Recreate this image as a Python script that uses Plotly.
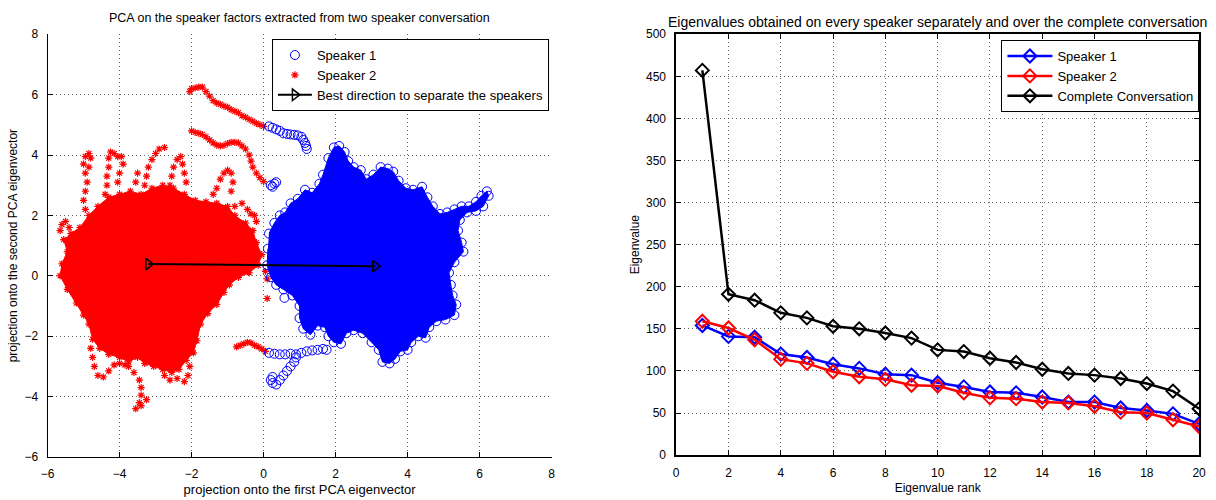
import plotly.graph_objects as go

# ---------------- Left panel: PCA projections ----------------
# Dense core of each speaker's cloud, traced as an outline (x, y)
spk1_core_x = [0.15, 0.3, 0.45, 0.6, 0.75, 0.95, 1.15, 1.35, 1.55, 1.65, 1.8, 1.95, 2.1, 2.25, 2.35, 2.5, 2.7,
               2.85, 3.05, 3.25, 3.45, 3.6, 3.75, 3.95, 4.15, 4.4, 4.55, 4.7, 4.9, 5.1, 5.3, 5.5, 5.7, 5.9, 6.05,
               6.2, 6.25, 6.1, 5.9, 5.65, 5.45, 5.4, 5.5, 5.55, 5.3, 5.15, 5.2, 5.25, 5.35, 5.3, 5.05, 4.8, 4.6,
               4.5, 4.3, 4.1, 4.0, 3.8, 3.65, 3.5, 3.3, 3.2, 3.0, 2.75, 2.5, 2.3, 2.15, 1.95, 1.8, 1.7, 1.5, 1.3,
               1.1, 1.0, 1.0, 0.8, 0.55, 0.35, 0.2, 0.1, 0.12]
spk1_core_y = [1.4, 1.75, 2.0, 2.1, 2.4, 2.55, 2.85, 2.75, 3.05, 3.35, 3.9, 4.25, 4.3, 4.1, 3.8, 3.6, 3.5,
               3.2, 3.35, 3.6, 3.55, 3.45, 3.15, 2.9, 2.85, 2.95, 2.6, 2.3, 2.05, 2.1, 2.2, 2.3, 2.3, 2.45, 2.65,
               2.8, 2.65, 2.3, 2.15, 2.1, 1.85, 1.5, 1.1, 0.8, 0.45, 0.1, -0.3, -0.65, -0.95, -1.3, -1.45, -1.5,
               -1.7, -2.05, -2.0, -2.2, -2.45, -2.5, -2.75, -2.9, -2.85, -2.45, -2.2, -1.9, -1.8, -1.9, -2.25,
               -2.2, -2.0, -1.7, -1.65, -1.95, -1.75, -1.4, -1.0, -0.65, -0.45, -0.3, -0.05, 0.35, 0.9]

# Isolated trajectories of speaker 1 outside the core
spk1_trail_x = [0.15, 0.25, 0.35, 0.45, 0.55, 0.65, 0.75, 0.85, 0.95, 1.05, 1.1, 1.15, 1.18, 1.2,
                0.2, 0.3, 0.35, 0.25,
                0.15, 0.3, 0.45, 0.6, 0.75, 0.9, 1.05, 1.2, 1.35, 1.5, 1.65, 1.75,
                0.9, 0.85, 0.75, 0.65, 0.55, 0.45, 0.35, 0.25, 0.2, 0.25,
                0.58]
spk1_trail_y = [4.95, 4.9, 4.85, 4.8, 4.72, 4.7, 4.68, 4.67, 4.65, 4.6, 4.5, 4.4, 4.3, 4.2,
                3.0, 3.05, 3.1, 2.95,
                -2.55, -2.58, -2.6, -2.6, -2.58, -2.6, -2.55, -2.5, -2.47, -2.45, -2.42, -2.45,
                -2.7, -2.85, -3.0, -3.15, -3.3, -3.45, -3.6, -3.55, -3.45, -3.35,
                -0.73]

spk2_core_x = [-5.55, -5.45, -5.6, -5.65, -5.45, -5.2, -5.0, -4.85, -4.75, -4.55, -4.3, -4.0, -3.75, -3.5,
               -3.3, -3.05, -2.8, -2.55, -2.35, -2.15, -1.95, -1.85, -1.75, -1.55, -1.3, -1.1, -0.95, -0.7,
               -0.4, -0.15, -0.05, -0.2, -0.3, -0.5, -0.8, -1.0, -1.3, -1.6, -1.9, -2.2, -2.5, -2.8, -3.1,
               -3.4, -3.7, -4.0, -4.3, -4.6, -4.85, -5.1, -5.35]
spk2_core_y = [1.2, 0.8, 0.4, 0.0, -0.45, -0.9, -1.3, -1.6, -2.1, -2.4, -2.6, -2.7, -2.85, -2.7,
               -2.9, -3.0, -3.1, -3.2, -3.1, -2.8, -2.55, -2.15, -1.6, -1.25, -0.95, -0.55, -0.3, -0.05,
               0.1, 0.35, 0.7, 1.1, 1.5, 1.75, 2.0, 2.3, 2.4, 2.45, 2.5, 2.7, 2.9, 3.0, 2.9,
               2.7, 2.8, 2.7, 2.6, 2.3, 2.0, 1.6, 1.4]

# Isolated trajectories of speaker 2 outside the core
spk2_trail_x = [-4.95, -5.0, -4.95, -4.9, -4.95, -5.0, -4.95, -4.85, -4.8, -4.85,
                -4.4, -4.35, -4.35, -4.3, -4.3, -4.25, -4.15, -4.05, -3.95, -3.9, -4.0, -4.05,
                -3.55, -3.5, -3.3, -3.25, -3.2, -3.1, -3.0, -2.9, -2.75,
                -2.6, -2.55, -2.5, -2.4, -2.3, -2.25, -2.2, -2.15,
                -1.4, -1.3, -1.2, -1.1, -1.0, -0.9, -0.85, -0.9,
                -0.8, -0.6, -0.45, -0.35, -0.25, -0.2,
                -5.65, -5.6, -5.5, -5.4,
                -4.8, -4.75, -4.7, -4.6, -4.45, -4.3, -4.15, -4.0, -3.85,
                -3.75, -3.6, -3.45, -3.4, -3.4, -3.45, -3.55, -3.4, -3.25,
                -2.75, -2.6, -2.4, -2.2, -2.1, -2.05,
                -2.05, -2.0, -1.9, -1.8, -1.7, -1.6, -1.5, -1.4, -1.3, -1.2, -1.1, -1.0, -0.9, -0.8, -0.7,
                -0.6, -0.5, -0.4, -0.3, -0.2, -0.1, 0.0,
                -2.0, -1.9, -1.8, -1.7, -1.6, -1.5, -1.4, -1.3, -1.2, -1.1, -1.0, -0.9, -0.8, -0.7, -0.6,
                -0.5, -0.4, -0.35, -0.3, -0.2, -0.1, 0.0,
                -0.75, -0.65, -0.55, -0.45, -0.35, -0.25, -0.15, -0.05, 0.05,
                0.1, 0.05, 0.1]
spk2_trail_y = [2.2, 2.5, 2.8, 3.1, 3.4, 3.7, 3.95, 4.05, 3.9, 3.6,
                2.7, 3.0, 3.3, 3.6, 3.9, 4.1, 4.05, 3.95, 3.95, 3.7, 3.4, 3.1,
                3.1, 3.4, 3.0, 3.3, 3.6, 3.85, 4.05, 4.2, 4.25,
                3.0, 3.3, 3.6, 3.85, 3.95, 3.7, 3.4, 3.1,
                2.7, 2.9, 3.2, 3.4, 3.5, 3.4, 3.1, 2.8,
                2.3, 2.4, 2.2, 2.05, 2.0, 1.8,
                1.5, 1.7, 1.8, 1.6,
                -2.4, -2.7, -3.0, -3.3, -3.35, -3.15, -2.95, -2.9, -2.95,
                -3.0, -3.2, -3.45, -3.7, -3.95, -4.2, -4.4, -4.3, -4.1,
                -3.3, -3.45, -3.4, -3.5, -3.3, -3.0,
                6.1, 6.2, 6.22, 6.25, 6.25, 6.1, 5.95, 5.8, 5.72, 5.68, 5.62, 5.58, 5.5, 5.45, 5.4,
                5.3, 5.25, 5.18, 5.12, 5.05, 5.0, 4.95,
                4.8, 4.75, 4.72, 4.68, 4.6, 4.5, 4.4, 4.33, 4.3, 4.32, 4.38, 4.42, 4.42, 4.4, 4.3,
                4.2, 4.0, 3.8, 3.6, 3.4, 3.25, 3.12,
                -2.35, -2.3, -2.25, -2.2, -2.22, -2.3, -2.35, -2.42, -2.5,
                -0.75, 0.15, -0.1]

# Direction separating the two speakers
sep_x = [-3.2, 3.1]
sep_y = [0.39, 0.32]

# ---------------- Right panel: eigenvalue spectra ----------------
rank = list(range(1, 21))
eig_spk1 = [154, 141, 140, 120, 116, 108, 103, 96, 95, 86, 81, 75, 74, 69, 63, 63, 56, 53, 49, 37]
eig_spk2 = [159, 151, 137, 114, 109, 99, 93, 90, 83, 82, 74, 68, 67, 63, 62, 58, 51, 50, 42, 34]
eig_conv = [457, 191, 184, 169, 163, 153, 150, 145, 139, 125, 123, 115, 110, 102, 97, 95, 91, 85, 76, 55]

BLUE = "#0000ff"
RED = "#ff0000"
FONT = "Liberation Sans, Arial, sans-serif"

fig = go.Figure()

# Speaker 2 (red) cloud
fig.add_trace(go.Scatter(x=spk2_core_x, y=spk2_core_y, mode="lines", fill="toself",
                         fillcolor=RED, line=dict(color=RED, width=1),
                         showlegend=False, hoverinfo="skip", xaxis="x", yaxis="y"))
fig.add_trace(go.Scatter(x=spk2_core_x + spk2_trail_x, y=spk2_core_y + spk2_trail_y, mode="markers",
                         name="Speaker 2",
                         marker=dict(symbol="asterisk-open", size=6, color=RED,
                                     line=dict(color=RED, width=1.2)),
                         legend="legend", xaxis="x", yaxis="y"))

# Speaker 1 (blue) cloud
fig.add_trace(go.Scatter(x=spk1_core_x, y=spk1_core_y, mode="lines", fill="toself",
                         fillcolor=BLUE, line=dict(color=BLUE, width=1),
                         showlegend=False, hoverinfo="skip", xaxis="x", yaxis="y"))
fig.add_trace(go.Scatter(x=spk1_core_x + spk1_trail_x, y=spk1_core_y + spk1_trail_y, mode="markers",
                         name="Speaker 1",
                         marker=dict(symbol="circle-open", size=9, color=BLUE,
                                     line=dict(color=BLUE, width=1)),
                         legend="legend", xaxis="x", yaxis="y"))

fig.add_trace(go.Scatter(x=sep_x, y=sep_y, mode="lines+markers",
                         name="Best direction to separate the speakers",
                         line=dict(color="black", width=2),
                         marker=dict(symbol="triangle-right-open", size=10, color="black",
                                     line=dict(color="black", width=1.5)),
                         legend="legend", xaxis="x", yaxis="y"))

# Eigenvalue curves
for vals, name, col in [(eig_spk1, "Speaker 1", BLUE), (eig_spk2, "Speaker 2", RED),
                        (eig_conv, "Complete Conversation", "black")]:
    fig.add_trace(go.Scatter(x=rank, y=vals, mode="lines+markers", name=name,
                             line=dict(color=col, width=2.5),
                             marker=dict(symbol="diamond-open", size=10, color=col,
                                         line=dict(color=col, width=2)),
                             legend="legend2", xaxis="x2", yaxis="y2"))

# Legend order: Speaker 1, Speaker 2, separation direction
fig.data[3].legendrank = 1
fig.data[1].legendrank = 2
fig.data[4].legendrank = 3

grid = dict(showgrid=True, gridcolor="rgba(0,0,0,0.6)", griddash="1px,3px", gridwidth=1,
            zeroline=False, ticks="inside", ticklen=5, tickcolor="black", ticklabelstandoff=6,
            tickfont=dict(family=FONT, size=12, color="black"))

fig.update_layout(
    width=1216, height=500,
    margin=dict(l=0, r=0, t=0, b=0),
    paper_bgcolor="white", plot_bgcolor="white",
    font=dict(family=FONT, size=12, color="black"),
    xaxis=dict(domain=[41 / 1216, 551 / 1216], range=[-6, 8], dtick=2, anchor="y",
               showline=True, linecolor="black", linewidth=1,
               title=dict(text="projection onto the first PCA eigenvector", standoff=4,
                          font=dict(size=13)), **grid),
    yaxis=dict(domain=[1 - 463 / 500, 1 - 28 / 500], range=[-6, 8], dtick=2, anchor="x",
               showline=True, linecolor="black", linewidth=1,
               title=dict(text="projection onto the second PCA eigenvector", standoff=4,
                          font=dict(size=12)), **grid),
    xaxis2=dict(domain=[677 / 1216, 1206 / 1216], range=[0, 20], dtick=2, anchor="y2",
                showline=True, linecolor="black", linewidth=1.5, mirror="ticks",
                title=dict(text="Eigenvalue rank", standoff=4, font=dict(size=12)), **grid),
    yaxis2=dict(domain=[1 - 461 / 500, 1 - 28 / 500], range=[0, 500], dtick=50, anchor="x2",
                showline=True, linecolor="black", linewidth=1.5, mirror="ticks",
                title=dict(text="Eigenvalue", standoff=4, font=dict(size=12)), **grid),
    legend=dict(x=268 / 1216, y=1 - 33 / 500, xanchor="left", yanchor="top",
                bgcolor="white", bordercolor="black", borderwidth=1,
                font=dict(family=FONT, size=13), tracegroupgap=0, itemwidth=34),
    legend2=dict(x=1006 / 1216, y=1 - 34 / 500, xanchor="left", yanchor="top",
                 bgcolor="white", bordercolor="black", borderwidth=1,
                 font=dict(family=FONT, size=13), tracegroupgap=0, itemwidth=45),
    annotations=[
        dict(text="PCA on the speaker factors extracted from two speaker conversation",
             x=(41 + 551) / 2 / 1216, y=1 - 11 / 500, xref="paper", yref="paper",
             xanchor="center", yanchor="middle",
             showarrow=False, font=dict(family=FONT, size=12.5)),
        dict(text="Eigenvalues obtained on every speaker separately and over the complete conversation",
             x=(677 + 1206) / 2 / 1216, y=1 - 15 / 500, xref="paper", yref="paper",
             xanchor="center", yanchor="middle",
             showarrow=False, font=dict(family=FONT, size=14)),
    ],
)

fig.write_html("out.html")
